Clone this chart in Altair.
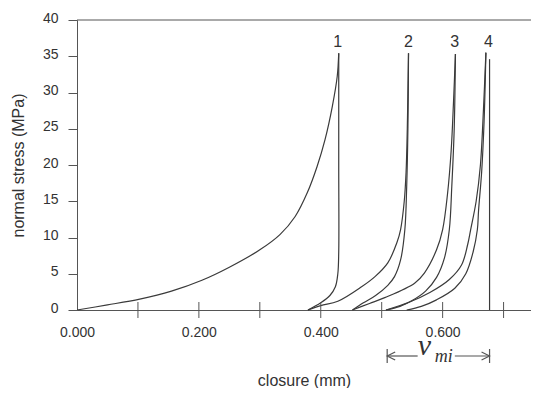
import altair as alt
import pandas as pd

# ---- curve data (closure mm, normal stress MPa) ----
load1_x = [0.0, 0.05, 0.103, 0.155, 0.205, 0.25, 0.300, 0.333, 0.358, 0.378, 0.394, 0.407, 0.419, 0.427, 0.4295]
load1_y = [0.0, 0.7, 1.5, 2.6, 4.1, 5.9, 8.3, 10.4, 12.9, 16.2, 19.8, 23.5, 28.1, 32.2, 35.4]
unload1_x = [0.379, 0.4, 0.415, 0.424, 0.428, 0.4295, 0.4295, 0.4295]
unload1_y = [0.0, 1.0, 2.0, 3.2, 5.0, 8.0, 20.0, 35.4]

load2_x = [0.379, 0.4, 0.428, 0.467, 0.489, 0.51, 0.525, 0.531, 0.537, 0.540, 0.542, 0.543, 0.544]
load2_y = [0.0, 0.6, 1.2, 3.2, 4.6, 6.5, 9.3, 11.1, 15.0, 19.0, 25.0, 30.0, 35.4]
unload2_x = [0.452, 0.47, 0.49, 0.51, 0.521, 0.531, 0.538, 0.541, 0.543, 0.544]
unload2_y = [0.0, 1.0, 2.0, 3.4, 4.6, 6.9, 11.1, 17.0, 25.0, 35.4]

load3_x = [0.452, 0.48, 0.505, 0.554, 0.57, 0.59, 0.6, 0.608, 0.614, 0.618, 0.621]
load3_y = [0.0, 0.9, 1.7, 3.7, 5.1, 8.3, 11.1, 16.0, 22.0, 29.0, 35.3]
unload3_x = [0.507, 0.53, 0.55, 0.572, 0.59, 0.603, 0.611, 0.615, 0.619, 0.621]
unload3_y = [0.0, 0.5, 1.3, 2.6, 4.5, 7.2, 11.1, 17.0, 25.0, 35.3]

load4_x = [0.507, 0.546, 0.579, 0.611, 0.631, 0.641, 0.646, 0.655, 0.662, 0.667, 0.671]
load4_y = [0.0, 1.1, 2.4, 4.2, 6.2, 9.0, 11.1, 15.0, 20.0, 27.7, 35.5]
unload4_x = [0.541, 0.565, 0.59, 0.62, 0.638, 0.65, 0.657, 0.659, 0.664, 0.668, 0.671]
unload4_y = [0.0, 0.5, 1.4, 3.0, 5.0, 8.0, 11.1, 13.8, 19.0, 26.0, 35.5]

curve_labels = ["1", "2", "3", "4"]
label_x = [0.428, 0.544, 0.62, 0.675]
label_y = [36.9, 36.9, 36.9, 36.9]

x_label_values = [0.0, 0.2, 0.4, 0.6]
x_tick_values = [0.1, 0.2, 0.3, 0.4, 0.5, 0.6, 0.7]
y_tick_values = [0, 5, 10, 15, 20, 25, 30, 35, 40]

vmi_start = 0.509
vmi_end = 0.677
vmi_line_top = 34.6
vmi_gap = [0.559, 0.62]
v_text_x = 0.570
mi_text_x = 0.602

# ---- build tables ----
segments = [
    ("L1", load1_x, load1_y), ("U1", unload1_x, unload1_y),
    ("L2", load2_x, load2_y), ("U2", unload2_x, unload2_y),
    ("L3", load3_x, load3_y), ("U3", unload3_x, unload3_y),
    ("L4", load4_x, load4_y), ("U4", unload4_x, unload4_y),
]
rows = []
for name, xs_, ys_ in segments:
    for i, (a, b) in enumerate(zip(xs_, ys_)):
        rows.append({"x": a, "y": b, "seg": name, "o": i})
curves = pd.DataFrame(rows)

W, H = 454, 290
XMAX = 0.745
LINE = "#3a3a3a"
AX = "#555555"
TXT = "#333333"
FONT = "Liberation Sans"

xs = alt.Scale(domain=[0, XMAX], nice=False, zero=False)
ys = alt.Scale(domain=[0, 40], nice=False)

x_axis = alt.Axis(values=x_label_values, format=".3f", ticks=False, grid=False,
                  labelPadding=15, labelFont=FONT, labelFontSize=14, labelColor=TXT,
                  labelFlush=False, labelOverlap=False,
                  domainColor=AX, domainWidth=1, title="closure (mm)",
                  titleFont=FONT, titleFontSize=16, titleFontWeight="normal",
                  titleColor=TXT, titleY=70, titleBaseline="middle")
y_axis = alt.Axis(values=y_tick_values, grid=False, tickSize=9, tickColor=AX,
                  labelPadding=10, labelFont=FONT, labelFontSize=14, labelColor=TXT,
                  labelFlush=False, labelOverlap=False, labelOffset=-2,
                  domainColor=AX, domainWidth=1, title="normal stress (MPa)",
                  titleFont=FONT, titleFontSize=16, titleFontWeight="normal",
                  titleColor=TXT, titleX=-59, titleY=145, titleAngle=270,
                  titleAlign="center", titleBaseline="middle")


def X(field="x"):
    return alt.X(f"{field}:Q", scale=xs, axis=x_axis, title="closure (mm)")


def Y(field="y"):
    return alt.Y(f"{field}:Q", scale=ys, axis=y_axis, title="normal stress (MPa)")


lines = alt.Chart(curves).mark_line(color=LINE, strokeWidth=1.2, interpolate="catmull-rom").encode(
    x=X(), y=Y(), detail="seg:N", order="o:Q",
)

ticks = alt.Chart(pd.DataFrame({"x": x_tick_values})).mark_rule(color=AX, strokeWidth=1).encode(
    x=X(), y=alt.value(H - 8), y2=alt.value(H + 8),
)

top = alt.Chart(pd.DataFrame({"y": [40]})).mark_rule(color=AX, strokeWidth=1).encode(
    y=Y(), x=alt.value(0), x2=alt.value(W),
)

labels = alt.Chart(pd.DataFrame({"x": label_x, "y": label_y, "t": curve_labels})).mark_text(
    font=FONT, fontSize=16, color=TXT, baseline="middle", align="center"
).encode(x=X(), y=Y(), text="t:N")

vline = alt.Chart(pd.DataFrame({"x": [vmi_end], "y": [0], "y2": [vmi_line_top]})).mark_rule(
    color=LINE, strokeWidth=1.2
).encode(x=X(), y=Y(), y2="y2:Q")

AY = 336
bars = alt.Chart(pd.DataFrame({"x": [vmi_start, vmi_end]})).mark_rule(color=AX, strokeWidth=1.2).encode(
    x=X(), y=alt.value(AY - 7), y2=alt.value(AY + 7),
)
shafts = alt.Chart(pd.DataFrame({"x": [vmi_start, vmi_gap[1]], "x2": [vmi_gap[0], vmi_end]})).mark_rule(
    color=AX, strokeWidth=1.2
).encode(x=X(), x2="x2:Q", y=alt.value(AY))
head_l = alt.Chart(pd.DataFrame({"x": [vmi_start]})).mark_point(
    shape="M 2 -1 L 0 0 L 2 1", size=64, filled=False, color=AX, strokeWidth=1.2, opacity=1
).encode(x=X(), y=alt.value(AY))
head_r = alt.Chart(pd.DataFrame({"x": [vmi_end]})).mark_point(
    shape="M -2 -1 L 0 0 L -2 1", size=64, filled=False, color=AX, strokeWidth=1.2, opacity=1
).encode(x=X(), y=alt.value(AY))

v_txt = alt.Chart(pd.DataFrame({"x": [v_text_x], "t": ["v"]})).mark_text(
    font="Liberation Serif", fontStyle="italic", fontSize=30, color=TXT, baseline="alphabetic", align="center"
).encode(x=X(), y=alt.value(AY - 1), text="t:N")
mi_txt = alt.Chart(pd.DataFrame({"x": [mi_text_x], "t": ["mi"]})).mark_text(
    font="Liberation Serif", fontStyle="italic", fontSize=18, color=TXT, baseline="alphabetic", align="center"
).encode(x=X(), y=alt.value(AY + 6), text="t:N")

chart = alt.layer(lines, ticks, top, labels, vline, bars, shafts, head_l, head_r, v_txt, mi_txt).properties(
    width=W, height=H,
    autosize=alt.AutoSizeParams(type="none"),
    padding={"left": 69, "top": 12, "right": 0, "bottom": 78},
    background="white",
).configure_view(stroke=None)

chart.save("out.html", embed_options={"renderer": "svg", "actions": False})
